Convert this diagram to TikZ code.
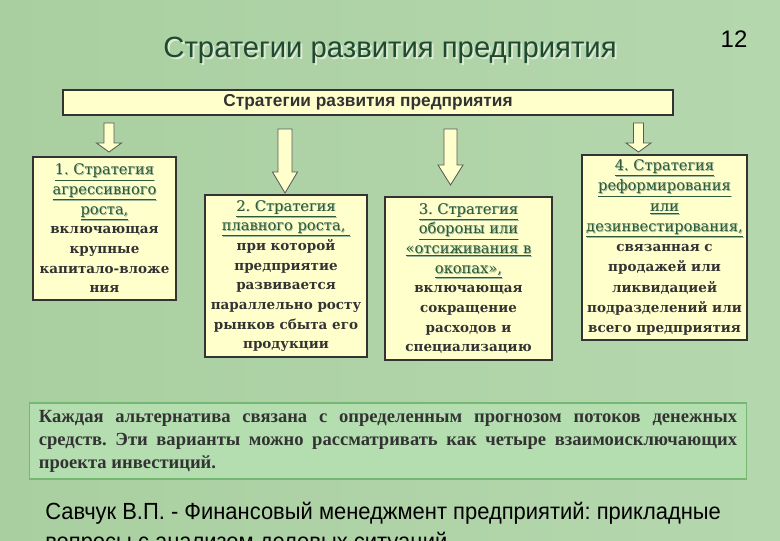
\documentclass[tikz,border=0pt]{standalone}
\usepackage{fontspec}
\setmainfont{DejaVu Serif}
\newfontfamily\sansfont{Liberation Sans}
\newfontfamily\srcfont[FakeStretch=0.94]{Liberation Sans}
\newfontfamily\notefont{Liberation Serif}
\usetikzlibrary{positioning}
\frenchspacing
\definecolor{bgLeft}{HTML}{A9CFA0}
\definecolor{bgMid}{HTML}{C3DDB6}
\definecolor{bgRight}{HTML}{B5D7AE}
\definecolor{ttlGreen}{HTML}{1F4A30}
\definecolor{ttlShadow}{HTML}{DDEBD5}
\definecolor{lnkGreen}{HTML}{2C5A3A}
\definecolor{lnkShadow}{HTML}{9DB89A}
\definecolor{boxFill}{HTML}{FFFFCC}
\definecolor{boxLine}{HTML}{333333}
\definecolor{boxText}{HTML}{333333}
\definecolor{noteFill}{HTML}{B4DEB0}
\definecolor{noteLine}{HTML}{74B874}
\newcommand{\lnk}[1]{{\mdseries\fontsize{10.4}{14}\selectfont\rlap{\textcolor{lnkShadow}{\kern0.6pt\raisebox{-0.6pt}{\underline{#1}}}}\textcolor{lnkGreen}{\underline{#1}}}}
\newcommand{\blockarrow}[5]{% x, top, base, tip, half shaft
  \draw[barr] (#1-#5,#2) -- (#1+#5,#2) -- (#1+#5,#3) -- (#1+12.5,#3)
    -- (#1,#4) -- (#1-12.5,#3) -- (#1-#5,#3) -- cycle;}
\begin{document}
\begin{tikzpicture}[x=0.025cm,y=-0.025cm,
  ttl/.style={font=\sansfont\fontsize{20.8}{24}\selectfont,text=ttlGreen},
  hdr/.style={draw=boxLine,line width=1.4pt,fill=boxFill,
              minimum width=15.25cm,minimum height=0.63cm,inner sep=0pt,
              font=\sansfont\bfseries\fontsize{12.3}{14}\selectfont,text=boxText},
  sbox/.style={draw=boxLine,line width=1.4pt,fill=boxFill,inner sep=0pt,
               align=center,text=boxText,
               font=\bfseries\fontsize{9.6}{14}\selectfont},
  barr/.style={draw=black!65,line width=0.6pt,fill=boxFill},
  note/.style={draw=noteLine,line width=0.8pt,fill=noteFill,
               minimum width=17.9cm,minimum height=1.9cm,
               text width=17.45cm,align=justify,text=boxText,
               font=\notefont\bfseries\fontsize{13.2}{16.4}\selectfont}]
  \useasboundingbox (0,0) rectangle (780,540);
  \clip (0,0) rectangle (780,540);
  \shade[left color=bgLeft,middle color=bgMid,right color=bgRight]
    (0,0) rectangle (780,540);

  % title
  \node[ttl,text=ttlShadow] at (392,52) {Стратегии развития предприятия};
  \node[ttl] (title) at (390,50) {Стратегии развития предприятия};
  \node[font=\sansfont\fontsize{17}{17}\selectfont,text=black] (pg) at (734,39) {12};

  \node[hdr] (hdr) at (368,102.5) {Стратегии развития предприятия};

  % strategies
  \node[sbox,minimum width=3.58cm,minimum height=3.58cm] (s1) at (104.5,228.5)
    {\lnk{1. Стратегия}\\\lnk{агрессивного}\\\lnk{роста,}\\включающая\\крупные\\капитало-вложе\\ния};
  \node[sbox,minimum width=4.05cm,minimum height=4.05cm] (s2) at (286,276)
    {\lnk{2. Стратегия}\\\lnk{плавного роста,\ }\\при которой\\предприятие\\развивается\\параллельно росту\\рынков сбыта его\\продукции};
  \node[sbox,minimum width=4.18cm,minimum height=4.08cm] (s3) at (468.5,278.5)
    {\lnk{3. Стратегия}\\\lnk{обороны или}\\\lnk{«отсиживания в}\\\lnk{окопах»,}\\включающая\\сокращение\\расходов и\\специализацию};
  \node[sbox,minimum width=4.13cm,minimum height=4.63cm,
        font=\bfseries\fontsize{9.6}{14.4}\selectfont] (s4) at (664.5,247.5)
    {\lnk{4. Стратегия}\\\lnk{реформирования}\\\lnk{или}\\\lnk{дезинвестирования,}\\связанная с\\продажей или\\ликвидацией\\подразделений или\\всего предприятия};

  % arrows
  \blockarrow{109}{123}{143}{152}{5}
  \blockarrow{285}{129}{172}{193}{7}
  \blockarrow{450.5}{129}{165}{185}{6.5}
  \blockarrow{638.5}{123}{143}{152}{5}

  \node[note] (note) at (388,441)
    {Каждая альтернатива связана с определенным прогнозом потоков денежных\linebreak
     средств. Эти варианты можно рассматривать как четыре взаимоисключающих\linebreak
     проекта инвестиций.};

  \node[anchor=north west,align=left,inner sep=0pt,text=black,
        font=\srcfont\fontsize{16.6}{21.5}\selectfont] (src) at (45,502)
    {Савчук В.П. - Финансовый менеджмент предприятий: прикладные\\
     вопросы с анализом деловых ситуаций};
\end{tikzpicture}
\end{document}
